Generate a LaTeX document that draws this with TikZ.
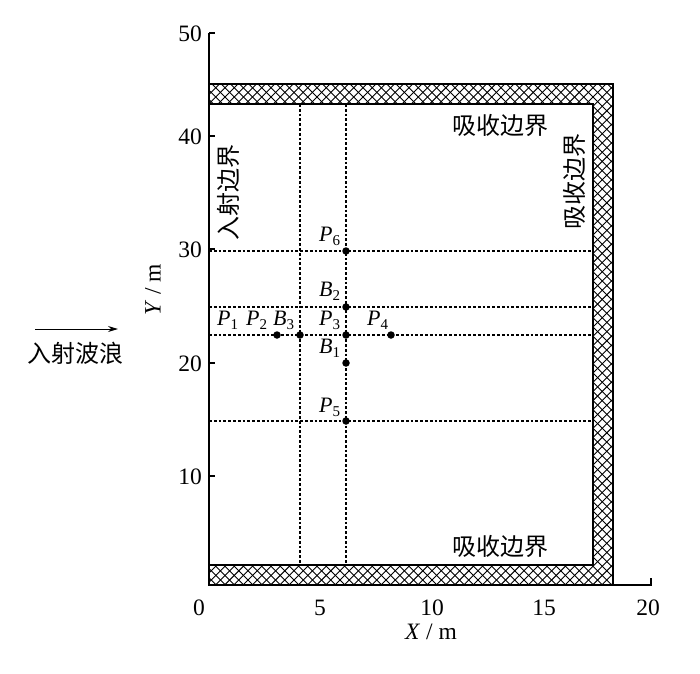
\documentclass[tikz,border=0pt]{standalone}
\usepackage{fontspec}
\setmainfont{Liberation Serif}
\newfontfamily\cjk{Noto Sans CJK SC}
\usetikzlibrary{arrows.meta}
\newcommand\lab[2]{\textit{#1}\raisebox{-.4ex}{\fontsize{15}{16}\selectfont #2}}
\tikzset{
  axisline/.style={line width=1.3pt},
  guide/.style={line width=1.1pt, dash pattern=on 2.8pt off 2pt},
  ptdot/.style={circle, fill=black, inner sep=0pt, minimum size=7.5pt},
  txt/.style={inner sep=0pt, font=\fontsize{23.5}{25}\selectfont},
  ptl/.style={inner sep=0pt, anchor=base west, font=\fontsize{22}{24}\selectfont},
  cn/.style={inner sep=0pt, font=\cjk\fontsize{24}{26}\selectfont},
  hatchline/.style={line width=0.9pt},
  border/.style={line width=1.3pt}
}
\begin{document}
\begin{tikzpicture}[x=1pt,y=-1pt]
\useasboundingbox (0,0) rectangle (700,673);
% hatched absorbing boundary
\begin{scope}
  \clip (209,84) -- (613,84) -- (613,585) -- (209,585) -- (209,565) -- (593,565) -- (593,104) -- (209,104) -- cycle;
  \foreach \i in {-700,-690.8,...,700} {
    \draw[hatchline] (\i,0) -- ++(700,700);
    \draw[hatchline] (\i,700) -- ++(700,-700);
  }
\end{scope}
\draw[border] (209,84) -- (613,84) -- (613,585) -- (209,585) -- (209,565) -- (593,565) -- (593,104) -- (209,104) -- cycle;
% guide lines
\draw[guide] (300,104) -- (300,565);
\draw[guide] (346,104) -- (346,565);
\draw[guide] (209,251) -- (593,251);
\draw[guide] (209,307) -- (593,307);
\draw[guide] (209,335) -- (593,335);
\draw[guide] (209,421) -- (593,421);
% axes
\draw[axisline] (209,33) -- (209,585) -- (651,585) -- (651,578);
\foreach \y in {33,136,249,363,476} \draw[axisline] (209,\y) -- (215,\y);
\node[txt, anchor=base east] (y50) at (202,41) {50};
\node[txt, anchor=base east] (y40) at (202,144) {40};
\node[txt, anchor=base east] (y30) at (202,257) {30};
\node[txt, anchor=base east] (y20) at (202,371) {20};
\node[txt, anchor=base east] (y10) at (202,484) {10};
\node[txt, anchor=base] (x0) at (199,615) {0};
\node[txt, anchor=base] (x5) at (320,615) {5};
\node[txt, anchor=base] (x10) at (432,615) {10};
\node[txt, anchor=base] (x15) at (544,615) {15};
\node[txt, anchor=base] (x20) at (648,615) {20};
\node[txt, anchor=base] (xlab) at (431,639) {\textit{X} / m};
\node[txt, rotate=90] (ylab) at (153,290) {\textit{Y} / m};
% points
\node[ptdot] (P6) at (346,251) {};
\node[ptdot] (B2) at (346,307) {};
\node[ptdot] (P3) at (346,335) {};
\node[ptdot] (B1) at (346,363) {};
\node[ptdot] (P5) at (346,421) {};
\node[ptdot] (P4) at (391,335) {};
\node[ptdot] (B3) at (300,335) {};
\node[ptdot] (P2) at (277,335) {};
\node[ptl] (lP6) at (319,241) {\lab{P}{6}};
\node[ptl] (lB2) at (319,296) {\lab{B}{2}};
\node[ptl] (lP3) at (319,325) {\lab{P}{3}};
\node[ptl] (lB1) at (319,353) {\lab{B}{1}};
\node[ptl] (lP5) at (319,412) {\lab{P}{5}};
\node[ptl] (lP4) at (367,325) {\lab{P}{4}};
\node[ptl] (lB3) at (273,325) {\lab{B}{3}};
\node[ptl] (lP2) at (246,325) {\lab{P}{2}};
\node[ptl] (lP1) at (217,325) {\lab{P}{1}};
% Chinese labels
\node[cn] (top) at (500,125) {吸收边界};
\node[cn] (bot) at (500,546) {吸收边界};
\node[cn, rotate=90] (right) at (574,181) {吸收边界};
\node[cn, rotate=90] (left) at (228,192) {入射边界};
% incident wave arrow
\coordinate (a1) at (35,329);
\coordinate (a2) at (118,329);
\draw[line width=1pt, -{Stealth[length=10pt,width=6pt]}] (a1) -- (a2);
\node[cn] (wave) at (75,353) {入射波浪};
\end{tikzpicture}
\end{document}
